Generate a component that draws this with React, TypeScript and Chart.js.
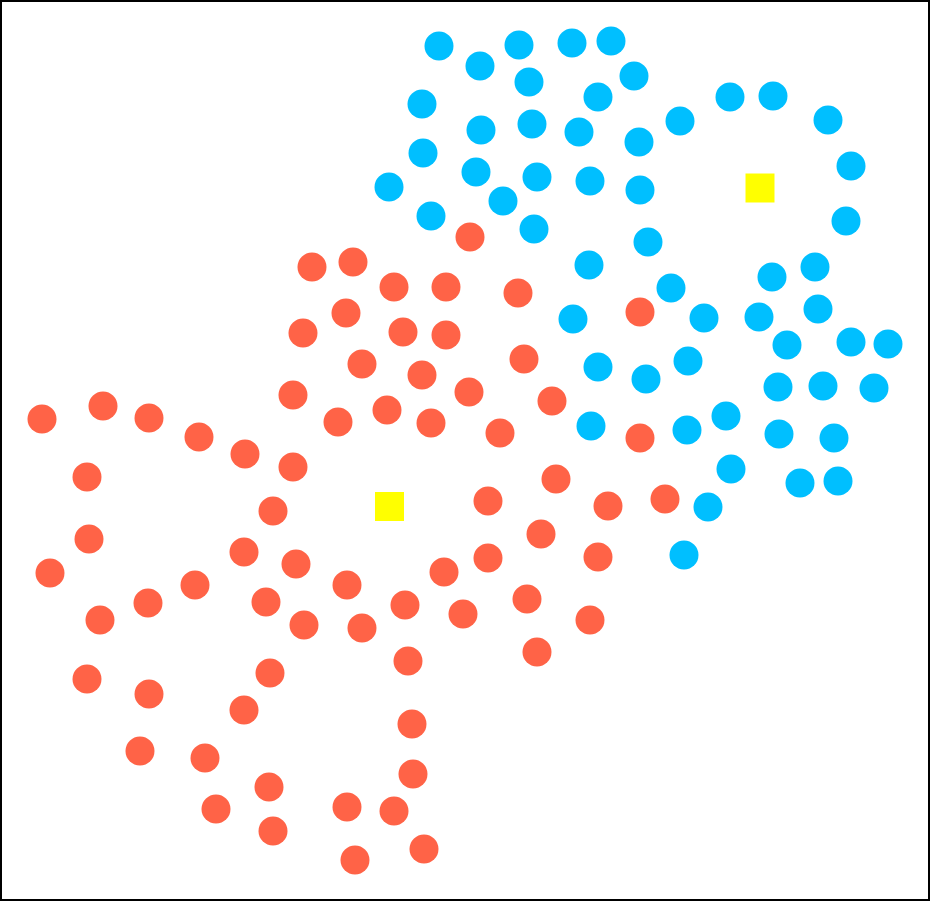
import React, { useEffect, useRef } from "react";
import { Chart, registerables } from "chart.js";

Chart.register(...registerables);

// Cluster A (blue) points: [x, y]
const clusterBlue: [number, number][] = [
  [439, 46], [480, 66], [519, 45], [572, 43], [611, 41], [529, 82], [634, 76],
  [422, 104], [598, 97], [481, 130], [532, 124], [579, 132], [639, 142], [680, 121],
  [730, 97], [773, 96], [828, 120], [423, 153], [476, 172], [537, 177], [590, 181],
  [640, 190], [851, 166], [389, 187], [503, 201], [431, 216], [534, 229], [846, 221],
  [648, 242], [589, 265], [772, 277], [815, 267], [671, 288], [573, 319], [704, 318],
  [759, 317], [818, 309], [787, 345], [851, 342], [888, 344], [598, 367], [646, 379],
  [688, 361], [778, 387], [823, 386], [874, 388], [591, 426], [687, 430], [726, 416],
  [779, 434], [834, 438], [731, 469], [800, 483], [838, 481], [708, 507], [684, 555],
];

// Cluster B (red) points: [x, y]
const clusterRed: [number, number][] = [
  [470, 237], [312, 267], [353, 262], [394, 287], [446, 287], [518, 293], [346, 313],
  [303, 333], [403, 332], [446, 335], [640, 312], [524, 359], [362, 364], [422, 375],
  [293, 395], [469, 392], [552, 401], [338, 422], [387, 410], [431, 423], [500, 433],
  [640, 438], [42, 419], [103, 406], [149, 418], [199, 437], [245, 454], [293, 467],
  [87, 477], [273, 511], [556, 479], [488, 501], [608, 506], [665, 499], [89, 539],
  [541, 534], [50, 573], [244, 552], [296, 564], [488, 558], [598, 557], [195, 585],
  [347, 585], [444, 572], [148, 603], [100, 620], [266, 602], [304, 625], [362, 628],
  [405, 605], [463, 614], [527, 599], [590, 620], [537, 652], [408, 661], [87, 679],
  [149, 694], [270, 673], [244, 710], [412, 724], [140, 751], [205, 758], [269, 787],
  [413, 774], [216, 809], [347, 807], [394, 811], [273, 831], [424, 849], [355, 860],
];

// Cluster centroids: [x, y]
const centroids: [number, number][] = [
  [389.5, 506.5],
  [760, 188],
];

const toPoints = (arr: [number, number][]) => arr.map(([x, y]) => ({ x, y }));

const borderPlugin = {
  id: "frameBorder",
  afterDraw(chart: any) {
    const { ctx, width, height } = chart;
    ctx.save();
    ctx.strokeStyle = "#000000";
    ctx.lineWidth = 2;
    ctx.strokeRect(1, 1, width - 2, height - 2);
    ctx.restore();
  },
};

export default function App() {
  const ref = useRef<HTMLCanvasElement>(null);

  useEffect(() => {
    document.body.style.margin = "0";
    const canvas = ref.current;
    if (!canvas) return;
    const chart = new Chart(canvas, {
      type: "scatter",
      data: {
        datasets: [
          {
            label: "Cluster 1",
            data: toPoints(clusterBlue),
            backgroundColor: "#00BFFF",
            borderWidth: 0,
            pointRadius: 14.5,
            pointHoverRadius: 14.5,
          },
          {
            label: "Cluster 2",
            data: toPoints(clusterRed),
            backgroundColor: "#FF6347",
            borderWidth: 0,
            pointRadius: 14.5,
            pointHoverRadius: 14.5,
          },
          {
            label: "Centroids",
            data: toPoints(centroids),
            backgroundColor: "#FFFF00",
            borderWidth: 0,
            pointStyle: "rect",
            pointRadius: 20.5,
            pointHoverRadius: 20.5,
          },
        ],
      },
      options: {
        responsive: false,
        animation: false,
        layout: { padding: 0, autoPadding: false },
        plugins: {
          legend: { display: false },
          tooltip: { enabled: false },
          title: { display: false },
        },
        scales: {
          x: { type: "linear", min: 0, max: 930, display: false },
          y: { type: "linear", min: 0, max: 901, reverse: true, display: false },
        },
      },
      plugins: [borderPlugin],
    });
    return () => chart.destroy();
  }, []);

  return (
    <canvas
      ref={ref}
      width={930}
      height={901}
      style={{ display: "block", width: 930, height: 901, background: "#ffffff" }}
    />
  );
}
